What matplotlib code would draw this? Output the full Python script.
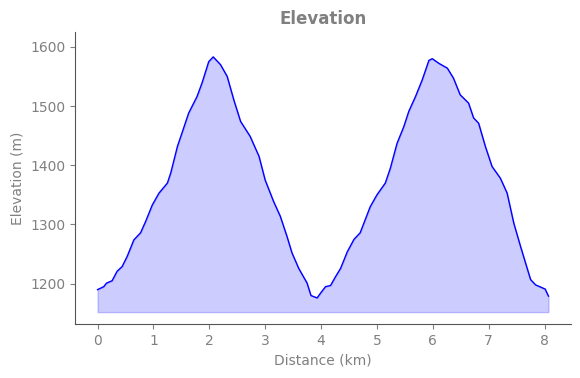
import matplotlib
matplotlib.use("Agg")
import matplotlib.pyplot as plt

plt.rcParams['font.family'] = ['DejaVu Sans']

# distance along track (km) and elevation (m)
distance_km = [0.00, 0.11, 0.16, 0.26, 0.35, 0.44, 0.53, 0.65, 0.77, 0.86,
               0.98, 1.10, 1.25, 1.31, 1.43, 1.52, 1.63, 1.78, 1.87, 1.99,
               2.07, 2.20, 2.32, 2.44, 2.56, 2.73, 2.89, 3.00, 3.15, 3.27,
               3.39, 3.48, 3.60, 3.75, 3.82, 3.93, 3.99, 4.08, 4.17, 4.26,
               4.35, 4.47, 4.59, 4.70, 4.88, 5.00, 5.15, 5.24, 5.36, 5.48,
               5.57, 5.69, 5.81, 5.93, 5.99, 6.11, 6.26, 6.37, 6.49, 6.64,
               6.73, 6.82, 6.94, 7.06, 7.21, 7.33, 7.45, 7.57, 7.66, 7.75,
               7.84, 8.01, 8.07]
elevation_m = [1190, 1195, 1201, 1205, 1221, 1229, 1246, 1274, 1286, 1305,
               1333, 1353, 1370, 1387, 1432, 1457, 1488, 1516, 1539, 1575,
               1583, 1570, 1550, 1510, 1474, 1449, 1415, 1375, 1339, 1314,
               1280, 1252, 1226, 1201, 1180, 1176, 1184, 1195, 1197, 1212,
               1226, 1254, 1275, 1286, 1330, 1350, 1370, 1395, 1437, 1465,
               1491, 1516, 1544, 1577, 1580, 1572, 1564, 1547, 1519, 1505,
               1480, 1471, 1432, 1398, 1378, 1353, 1302, 1263, 1235, 1207,
               1198, 1191, 1179]

base = min(elevation_m) - 24
TEXT = "#808080"

fig = plt.figure(figsize=(5.8, 3.78), dpi=100)
ax = fig.add_axes([0.1293, 0.1429, 0.8552, 0.7724])

ax.fill_between(distance_km, elevation_m, base, color="blue", alpha=0.2)
ax.plot(distance_km, elevation_m, color="blue", lw=1)

ax.set_ylim(1132, 1625)
ax.set_xticks(range(0, 9))
ax.set_yticks([1200, 1300, 1400, 1500, 1600])

ax.set_title("Elevation", color=TEXT, fontweight="bold", fontsize=12)
ax.set_xlabel("Distance (km)", color=TEXT)
ax.set_ylabel("Elevation (m)", color=TEXT)
ax.tick_params(colors=TEXT, labelcolor=TEXT)
for s in ["top", "right"]:
    ax.spines[s].set_visible(False)
for s in ["left", "bottom"]:
    ax.spines[s].set_color("#555555")

fig.savefig("out.png", dpi=100)
